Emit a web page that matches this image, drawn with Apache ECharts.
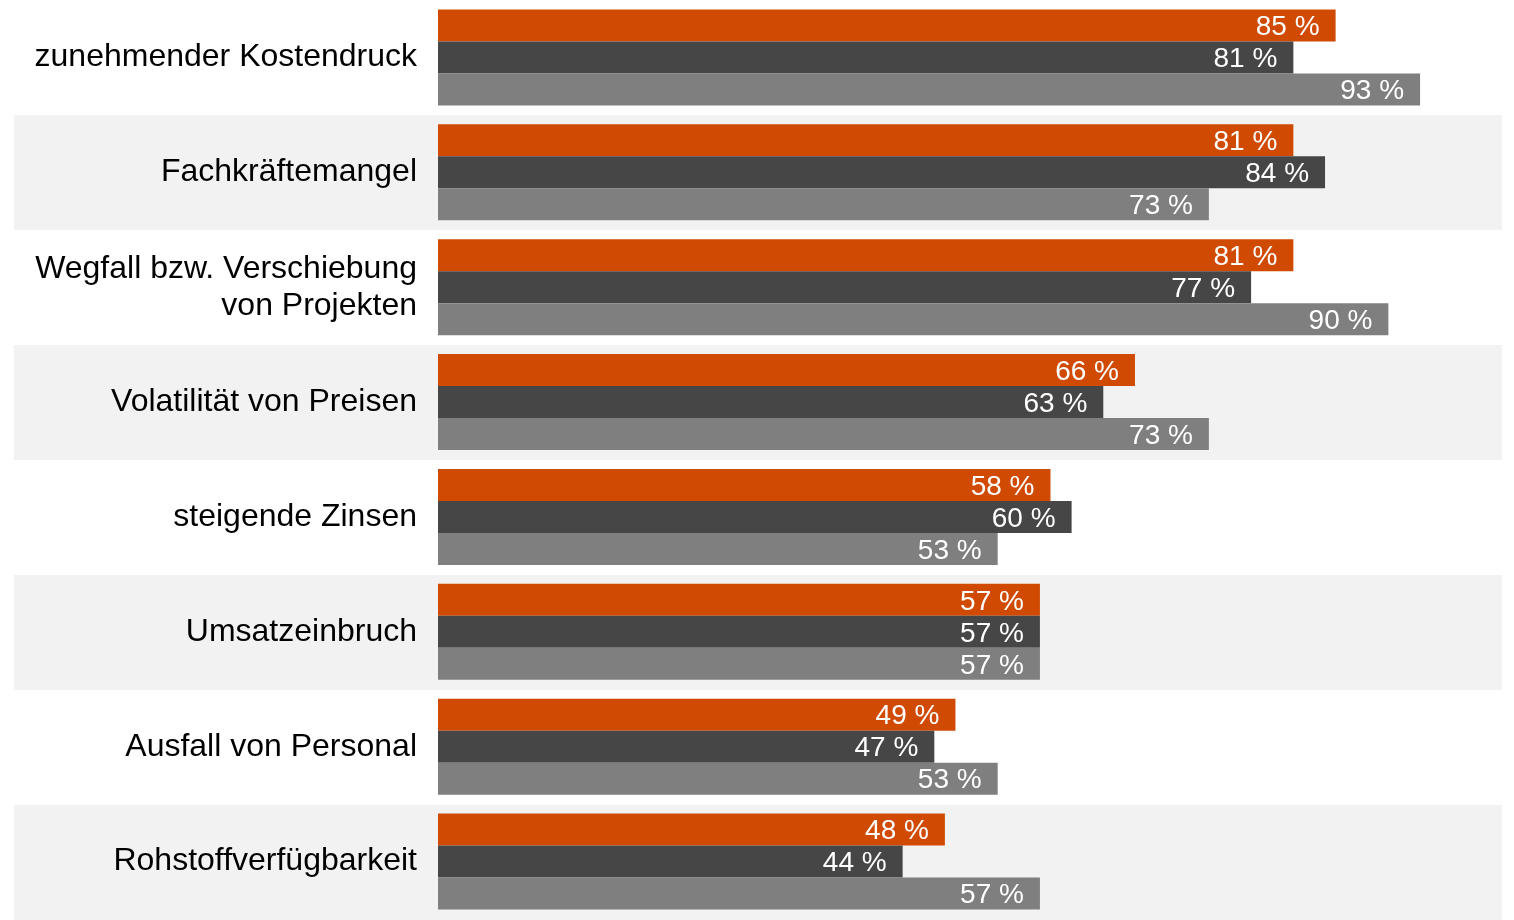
<!DOCTYPE html>
<html>
<head>
<meta charset="utf-8">
<script src="https://cdn.jsdelivr.net/npm/echarts@6/dist/echarts.min.js"></script>
<style>
  html, body { margin: 0; padding: 0; background: #fff; }
  #chart { width: 1514px; height: 920px; }
</style>
</head>
<body>
<div id="chart"></div>
<script>
// Kategorien von oben nach unten
const categories = [
  'zunehmender Kostendruck',
  'Fachkräftemangel',
  'Wegfall bzw. Verschiebung\nvon Projekten',
  'Volatilität von Preisen',
  'steigende Zinsen',
  'Umsatzeinbruch',
  'Ausfall von Personal',
  'Rohstoffverfügbarkeit'
]
// drei Reihen (orange, dunkelgrau, hellgrau)
const seriesOrange = [85, 81, 81, 66, 58, 57, 49, 48]
const seriesDark = [81, 84, 77, 63, 60, 57, 47, 44]
const seriesLight = [93, 73, 90, 73, 53, 57, 53, 57]

const colors = ['#d04a02', '#464646', '#7f7f7f']

const chart = echarts.init(document.getElementById('chart'), null, { renderer: 'canvas' })

function barSeries(data, color) {
  return {
    type: 'bar',
    xAxisIndex: 1,
    yAxisIndex: 1,
    data: data,
    barWidth: 32,
    barGap: '0%',
    itemStyle: { color: color },
    label: {
      show: true,
      position: 'insideRight',
      distance: 16,
      offset: [0, 2],
      color: '#fff',
      fontFamily: 'Liberation Sans, Arial, sans-serif',
      fontSize: 28,
      formatter: (p) => p.value + ' %'
    },
    silent: true
  }
}

const option = {
  animation: false,
  grid: [
    // Hintergrundstreifen über die ganze Breite
    { left: 14, right: 12, top: 0, bottom: 0 },
    // eigentliche Balken
    { left: 438, width: 1056, top: -1, bottom: 1 }
  ],
  xAxis: [
    { gridIndex: 0, type: 'value', min: 0, max: 100, show: false },
    { gridIndex: 1, type: 'value', min: 0, max: 100, show: false }
  ],
  yAxis: [
    {
      gridIndex: 0,
      type: 'category',
      inverse: true,
      data: categories,
      axisLine: { show: false },
      axisTick: { show: false },
      axisLabel: { show: false },
      splitLine: { show: false },
      splitArea: {
        show: true,
        areaStyle: { color: ['rgba(255,255,255,0)', '#f2f2f2'] }
      }
    },
    {
      gridIndex: 1,
      type: 'category',
      inverse: true,
      data: categories,
      axisLine: { show: false },
      axisTick: { show: false },
      splitLine: { show: false },
      axisLabel: {
        margin: 21,
        color: '#000',
        fontFamily: 'Liberation Sans, Arial, sans-serif',
        fontSize: 32,
        lineHeight: 37,
        padding: [5, 0, 0, 0],
        align: 'right'
      }
    }
  ],
  series: [
    barSeries(seriesOrange, colors[0]),
    barSeries(seriesDark, colors[1]),
    barSeries(seriesLight, colors[2])
  ]
}

chart.setOption(option)
</script>
</body>
</html>
